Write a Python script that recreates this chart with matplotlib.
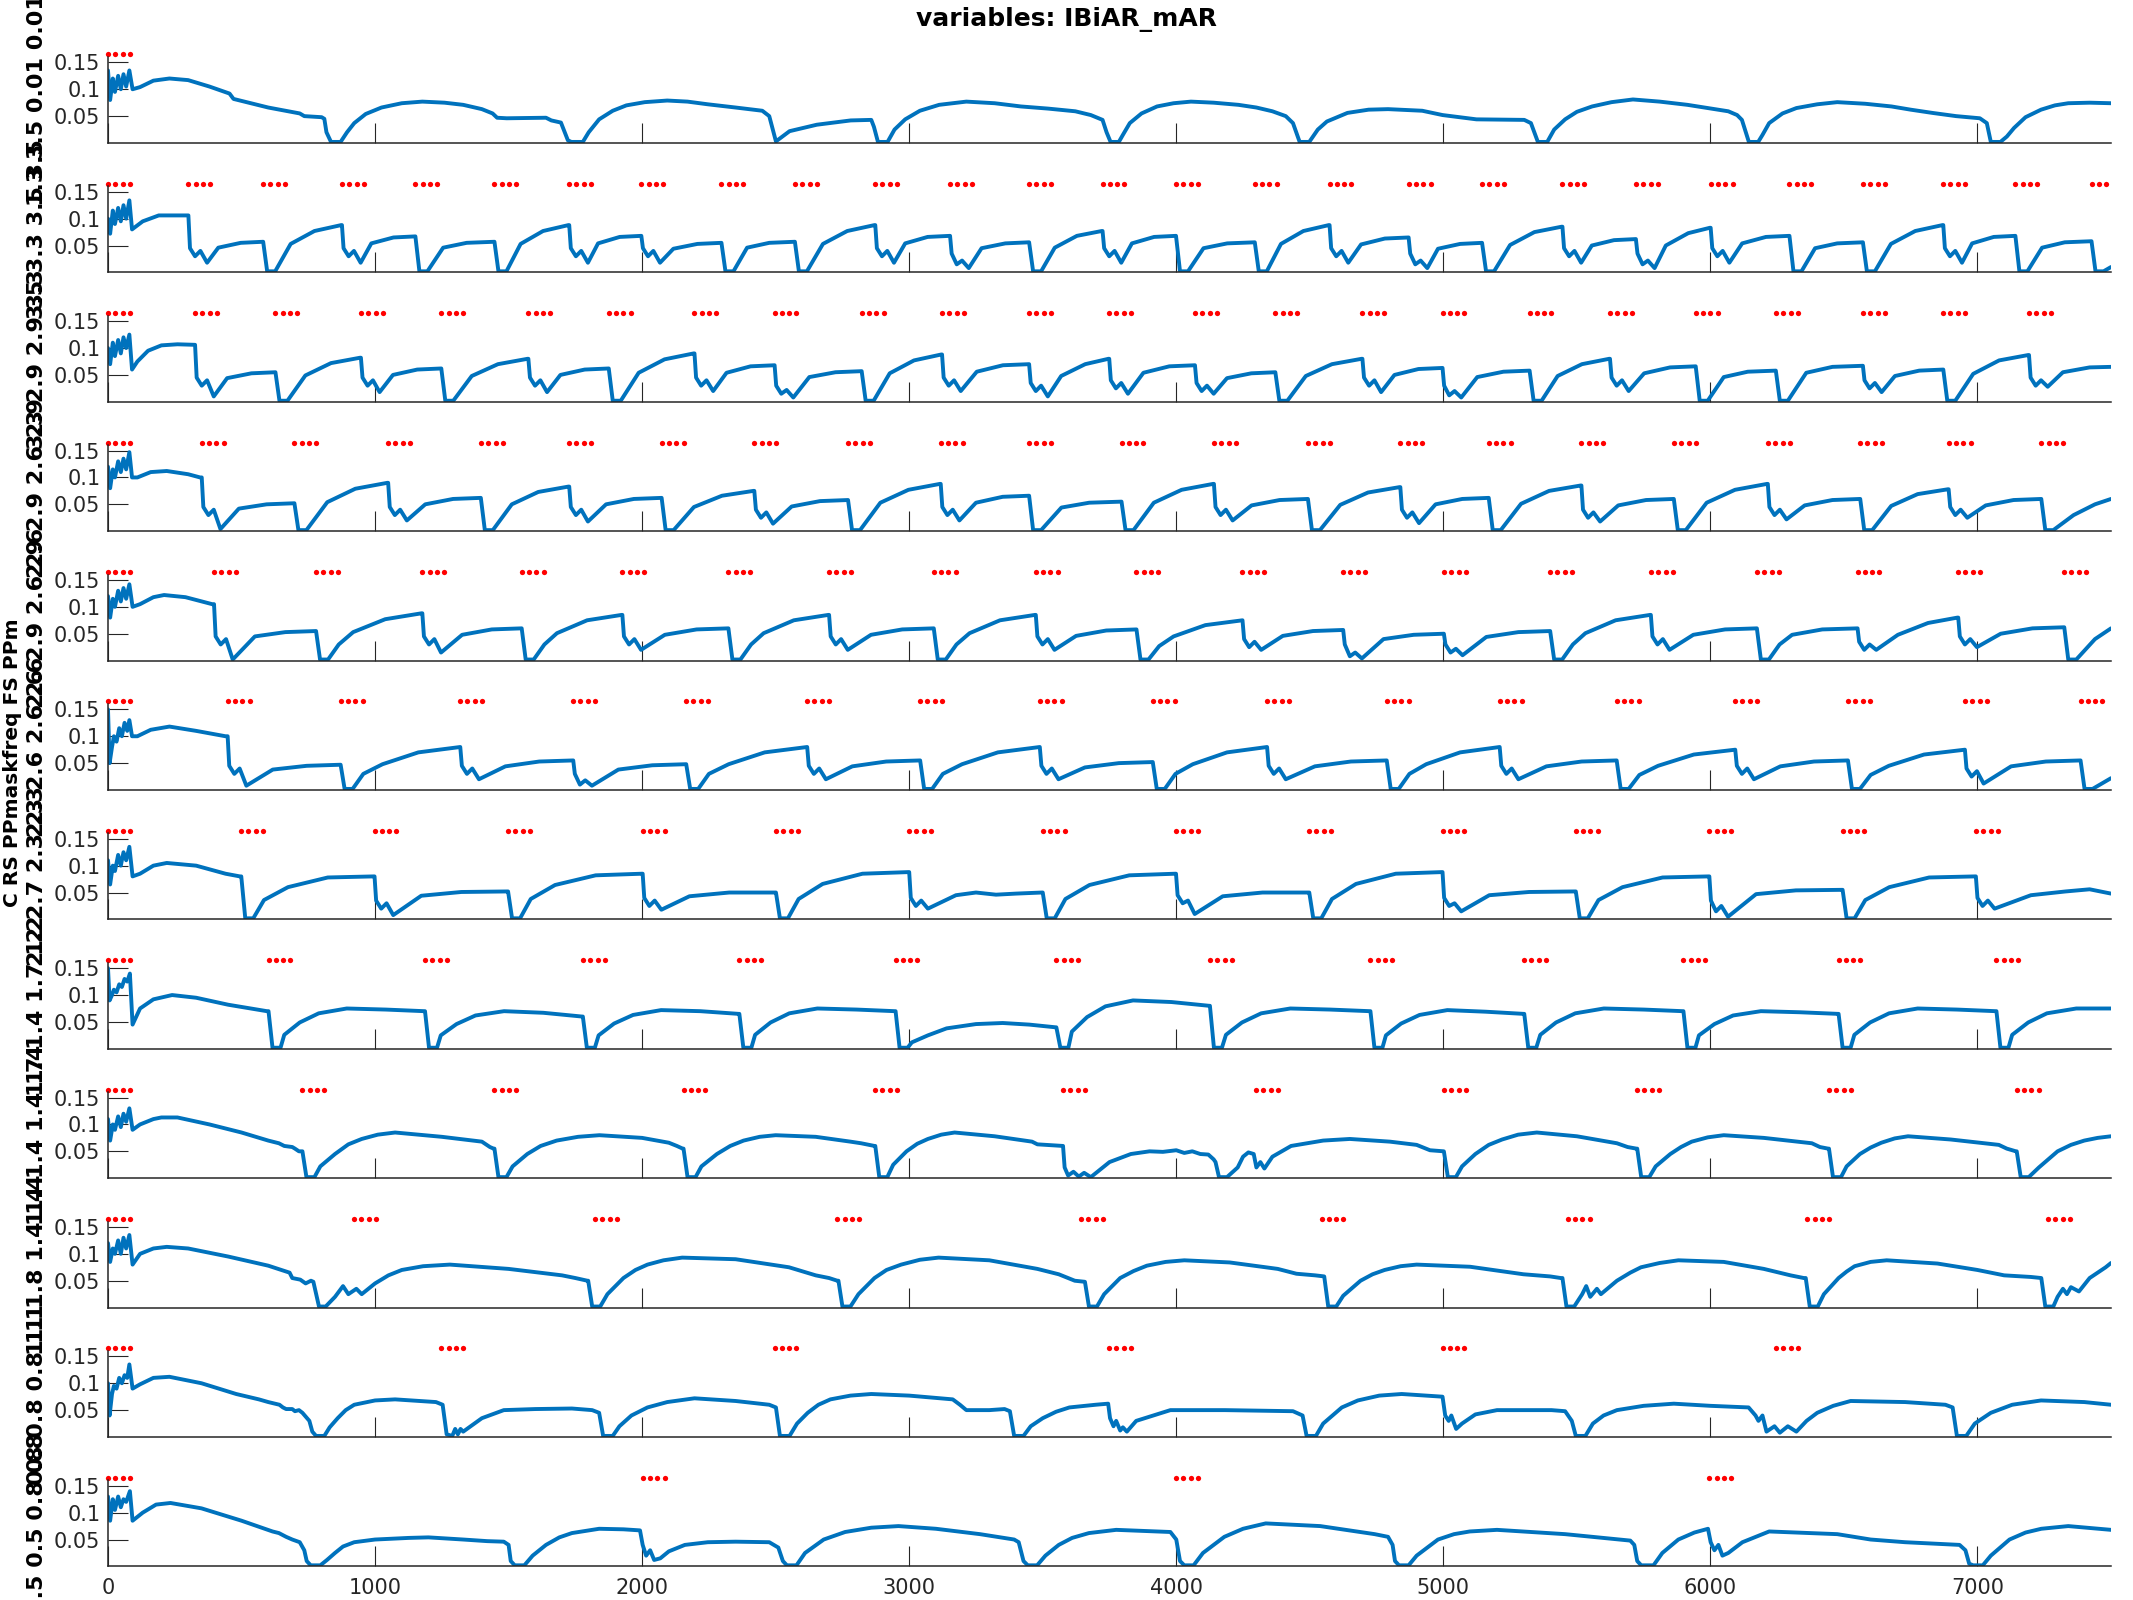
import matplotlib
matplotlib.use("Agg")
import matplotlib.pyplot as plt

title = "variables: IBiAR_mAR"
side_label = "C RS PPmaskfreq FS PPm"
row_labels = ["1.3 3.5 0.01 0.01", "3.5 3.3 3.5 3.5", "3.3 2.9 2.9 3.3", "2.9 2.9 2.6 2.9",
              "2.6 2.9 2.6 2.6", "2.3 2.6 2.6 2.6", "2.2 2.7 2.3 2.3", "1.7 1.4 1.7 1.2",
              "1.4 1.4 1.4 1.4", "1.1 1.8 1.4 1.4", "0.8 0.8 0.8 1.1", "0.5 0.5 0.8 0.8"]
xticks = [0, 1000, 2000, 3000, 4000, 5000, 6000, 7000]
yticks = [0.05, 0.1, 0.15]
ytick_labels = ["0.05", "0.1", "0.15"]
dot_offsets = [0, 27, 55, 82]
dot_level = 0.165

dots1 = [0]
dots2 = [0, 301, 581, 876, 1151, 1447, 1727, 1997, 2297, 2572, 2873, 3153, 3449, 3724, 3999, 4294,
         4574, 4870, 5145, 5446, 5721, 6001, 6296, 6571, 6872, 7142, 7427]
dots3 = [0, 326, 627, 947, 1248, 1574, 1875, 2196, 2496, 2822, 3123, 3449, 3749, 4070, 4371, 4697,
         4997, 5323, 5624, 5945, 6245, 6571, 6872, 7193]
dots4 = [0, 351, 698, 1049, 1396, 1727, 2073, 2420, 2771, 3118, 3449, 3795, 4141, 4493, 4839, 5170,
         5517, 5863, 6215, 6561, 6892, 7239]
dots5 = [0, 397, 779, 1177, 1549, 1926, 2323, 2700, 3092, 3474, 3851, 4248, 4625, 5002, 5400, 5777,
         6174, 6551, 6928, 7325]
dots6 = [0, 448, 871, 1319, 1742, 2165, 2618, 3041, 3489, 3912, 4340, 4788, 5211, 5649, 6093, 6515,
         6953, 7386]
dots7 = [0, 499, 998, 1498, 2002, 2501, 3000, 3500, 3999, 4498, 4997, 5496, 5996, 6495, 6994]
dots8 = [0, 601, 1187, 1778, 2364, 2949, 3551, 4126, 4727, 5303, 5899, 6480, 7071]
dots9 = [0, 728, 1447, 2155, 2873, 3576, 4299, 5002, 5726, 6444, 7147]
dots10 = [0, 922, 1824, 2731, 3643, 4544, 5466, 6363, 7264]
dots11 = [0, 1248, 2496, 3749, 4997, 6245]
dots12 = [0, 2002, 3999, 5996]

s1 = [(0,.135),(8,.08),(18,.12),(26,.095),(38,.125),(48,.1),(58,.128),(68,.105),(80,.135),(92,.1),(120,.104),(170,.116),(230,.12),(300,.117),(380,.105),(455,.092),(470,.082),(600,.066),(718,.055),(735,.05),(769,.049),(800,.048),(810,.045),(818,.02),(835,.002),(871,.002),
      (895,.02),(922,.037),(965,.054),(1024,.066),(1100,.074),(1177,.077),(1260,.075),(1330,.071),(1400,.063),(1440,.055),(1457,.047),(1493,.046),(1640,.047),(1660,.042),(1696,.038),(1722,.005),(1735,.002),(1778,.002),
      (1800,.02),(1839,.044),(1890,.06),(1941,.07),(2010,.076),(2094,.079),(2170,.077),(2246,.072),(2350,.066),(2450,.060),(2476,.05),(2501,.003),(2552,.022),(2654,.034),(2781,.042),(2858,.043),(2868,.03),(2883,.002),(2919,.002),
      (2945,.025),(2985,.044),(3040,.06),(3112,.071),(3214,.077),(3320,.074),(3418,.068),(3520,.064),(3622,.059),(3680,.052),(3724,.043),(3739,.02),(3754,.002),(3785,.002),
      (3800,.015),(3826,.037),(3870,.055),(3928,.068),(3990,.074),(4055,.077),(4140,.075),(4233,.071),(4300,.066),(4360,.059),(4410,.05),(4437,.037),(4462,.002),(4498,.002),
      (4530,.025),(4564,.04),(4641,.056),(4720,.062),(4793,.063),(4921,.06),(4997,.052),(5124,.044),(5303,.043),(5328,.037),(5354,.002),(5389,.002),
      (5415,.025),(5456,.044),(5500,.058),(5557,.068),(5630,.076),(5710,.081),(5810,.077),(5914,.071),(5990,.065),(6067,.059),(6100,.052),(6118,.043),(6144,.002),(6179,.002),
      (6195,.015),(6220,.037),(6270,.055),(6322,.065),(6400,.072),(6475,.076),(6580,.073),(6678,.068),(6750,.062),(6831,.056),(6920,.05),(7009,.046),(7035,.037),(7050,.002),(7086,.002),
      (7110,.012),(7137,.028),(7180,.048),(7238,.062),(7290,.07),(7340,.074),(7420,.075),(7500,.074)]

s2 = [(0,.1),(8,.072),(18,.115),(26,.09),(38,.12),(48,.095),(58,.125),(68,.1),(80,.134),(90,.08),(130,.095),(190,.106),(295,.106),
      (301,.106),(307,.045),(326,.03),(346,.04),(371,.018),(413,.046),(497,.055),(578,.057),
      (581,.057),(596,.002),(626,.002),(684,.053),(773,.077),(873,.088),
      (876,.088),(882,.045),(901,.03),(921,.04),(946,.018),(986,.054),(1069,.065),(1148,.067),
      (1151,.067),(1166,.002),(1196,.002),(1255,.046),(1343,.055),(1444,.057),
      (1447,.057),(1462,.002),(1492,.002),(1545,.053),(1629,.077),(1724,.088),
      (1727,.088),(1733,.045),(1752,.03),(1772,.04),(1797,.018),(1835,.054),(1916,.066),(1994,.068),
      (1997,.068),(2003,.045),(2022,.03),(2042,.04),(2067,.018),(2117,.044),(2207,.053),(2294,.055),
      (2297,.055),(2312,.002),(2342,.002),(2393,.046),(2476,.055),(2569,.057),
      (2572,.057),(2587,.002),(2617,.002),(2677,.053),(2768,.077),(2870,.088),
      (2873,.088),(2879,.045),(2898,.03),(2918,.04),(2943,.018),(2985,.054),(3069,.066),(3150,.068),
      (3153,.068),(3159,.035),(3178,.015),(3198,.022),(3223,.008),(3271,.045),(3360,.054),(3446,.056),
      (3449,.056),(3464,.002),(3494,.002),(3545,.046),(3628,.068),(3721,.077),
      (3724,.077),(3730,.045),(3749,.03),(3769,.04),(3794,.018),(3834,.054),(3917,.066),(3996,.068),
      (3999,.068),(4014,.002),(4044,.002),(4102,.045),(4191,.054),(4291,.056),
      (4294,.056),(4309,.002),(4339,.002),(4392,.053),(4476,.077),(4571,.088),
      (4574,.088),(4580,.045),(4599,.03),(4619,.04),(4644,.018),(4692,.052),(4781,.063),(4867,.065),
      (4870,.065),(4876,.035),(4895,.015),(4915,.022),(4940,.008),(4980,.044),(5063,.053),(5142,.055),
      (5145,.055),(5160,.002),(5190,.002),(5250,.051),(5341,.075),(5443,.085),
      (5446,.085),(5452,.045),(5471,.03),(5491,.04),(5516,.018),(5556,.05),(5639,.06),(5718,.062),
      (5721,.062),(5727,.035),(5746,.015),(5766,.022),(5791,.008),(5833,.05),(5917,.073),(5998,.083),
      (6001,.083),(6007,.045),(6026,.03),(6046,.04),(6071,.018),(6119,.054),(6208,.066),(6293,.068),
      (6296,.068),(6311,.002),(6341,.002),(6392,.045),(6475,.054),(6568,.056),
      (6571,.056),(6586,.002),(6616,.002),(6676,.053),(6767,.077),(6869,.088),
      (6872,.088),(6878,.045),(6897,.03),(6917,.04),(6942,.018),(6980,.054),(7061,.066),(7139,.068),
      (7142,.068),(7157,.002),(7187,.002),(7242,.046),(7327,.056),(7424,.058),
      (7427,.058),(7442,.002),(7472,.002),(7500,.01)]

s3 = [(0,.1),(8,.07),(18,.11),(26,.085),(38,.115),(48,.09),(58,.12),(68,.1),(80,.125),(90,.06),(110,.075),(150,.095),(200,.105),(260,.107),(320,.106),
      (326,.106),(332,.045),(351,.03),(371,.04),(396,.01),(446,.044),(537,.053),(624,.055),
      (627,.055),(642,.002),(672,.002),(739,.049),(835,.072),(944,.082),
      (947,.082),(953,.045),(972,.03),(992,.04),(1017,.018),(1067,.05),(1158,.06),(1245,.062),
      (1248,.062),(1263,.002),(1293,.002),(1362,.048),(1460,.07),(1571,.08),
      (1574,.08),(1580,.045),(1599,.03),(1619,.04),(1644,.018),(1694,.05),(1785,.06),(1872,.062),
      (1875,.062),(1890,.002),(1920,.002),(1987,.054),(2084,.079),(2193,.09),
      (2196,.09),(2202,.045),(2221,.03),(2241,.04),(2266,.02),(2316,.054),(2406,.066),(2493,.068),
      (2496,.068),(2502,.03),(2521,.015),(2541,.022),(2566,.008),(2626,.046),(2724,.055),(2819,.057),
      (2822,.057),(2837,.002),(2867,.002),(2927,.053),(3018,.077),(3120,.088),
      (3123,.088),(3129,.045),(3148,.03),(3168,.04),(3193,.02),(3253,.056),(3351,.068),(3446,.07),
      (3449,.07),(3455,.035),(3474,.02),(3494,.03),(3519,.01),(3569,.048),(3659,.07),(3746,.08),
      (3749,.08),(3755,.04),(3774,.025),(3794,.035),(3819,.015),(3877,.054),(3974,.066),(4067,.068),
      (4070,.068),(4076,.035),(4095,.02),(4115,.03),(4140,.015),(4190,.044),(4281,.053),(4368,.055),
      (4371,.055),(4386,.002),(4416,.002),(4485,.048),(4583,.07),(4694,.08),
      (4697,.08),(4703,.045),(4722,.03),(4742,.04),(4767,.018),(4817,.05),(4907,.061),(4994,.063),
      (4997,.063),(5003,.03),(5022,.012),(5042,.02),(5067,.008),(5127,.046),(5225,.056),(5320,.058),
      (5323,.058),(5338,.002),(5368,.002),(5428,.048),(5519,.07),(5621,.08),
      (5624,.08),(5630,.045),(5649,.03),(5669,.04),(5694,.02),(5752,.053),(5849,.064),(5942,.066),
      (5945,.066),(5960,.002),(5990,.002),(6050,.046),(6140,.056),(6242,.058),
      (6245,.058),(6260,.002),(6290,.002),(6359,.054),(6457,.065),(6568,.067),
      (6571,.067),(6577,.04),(6596,.025),(6616,.035),(6641,.018),(6691,.048),(6782,.058),(6869,.06),
      (6872,.06),(6887,.002),(6917,.002),(6984,.052),(7081,.077),(7190,.087),
      (7193,.087),(7199,.045),(7218,.03),(7238,.04),(7263,.028),(7320,.055),(7420,.064),(7500,.065)]

s4 = [(0,.12),(8,.08),(18,.115),(26,.1),(38,.13),(48,.11),(58,.135),(68,.115),(80,.147),(90,.1),(110,.1),(160,.11),(220,.112),(300,.106),(345,.1),
      (351,.1),(357,.045),(376,.03),(396,.04),(421,.004),(490,.042),(594,.05),(695,.052),
      (698,.052),(713,.002),(743,.002),(821,.054),(926,.079),(1046,.09),
      (1049,.09),(1055,.045),(1074,.03),(1094,.04),(1119,.02),(1188,.05),(1292,.06),(1393,.062),
      (1396,.062),(1411,.002),(1441,.002),(1512,.05),(1611,.073),(1724,.083),
      (1727,.083),(1733,.045),(1752,.03),(1772,.04),(1797,.018),(1865,.05),(1969,.06),(2070,.062),
      (2073,.062),(2088,.002),(2118,.002),(2194,.045),(2299,.066),(2417,.075),
      (2420,.075),(2426,.04),(2445,.025),(2465,.035),(2490,.014),(2560,.046),(2666,.056),(2768,.058),
      (2771,.058),(2786,.002),(2816,.002),(2892,.053),(2997,.077),(3115,.088),
      (3118,.088),(3124,.045),(3143,.03),(3163,.04),(3188,.02),(3250,.053),(3350,.064),(3446,.066),
      (3449,.066),(3464,.002),(3494,.002),(3570,.044),(3674,.053),(3792,.055),
      (3795,.055),(3810,.002),(3840,.002),(3916,.053),(4020,.077),(4138,.088),
      (4141,.088),(4147,.045),(4166,.03),(4186,.04),(4211,.02),(4282,.048),(4387,.058),(4490,.06),
      (4493,.06),(4508,.002),(4538,.002),(4614,.049),(4718,.072),(4836,.082),
      (4839,.082),(4845,.04),(4864,.025),(4884,.035),(4909,.015),(4971,.05),(5071,.06),(5167,.062),
      (5170,.062),(5185,.002),(5215,.002),(5291,.051),(5396,.075),(5514,.085),
      (5517,.085),(5523,.04),(5542,.025),(5562,.035),(5587,.018),(5655,.048),(5759,.058),(5860,.06),
      (5863,.06),(5878,.002),(5908,.002),(5986,.053),(6092,.077),(6212,.088),
      (6215,.088),(6221,.045),(6240,.03),(6260,.04),(6285,.022),(6353,.048),(6457,.058),(6558,.06),
      (6561,.06),(6576,.002),(6606,.002),(6677,.047),(6776,.069),(6889,.078),
      (6892,.078),(6898,.045),(6917,.03),(6937,.04),(6962,.025),(7031,.048),(7135,.058),(7236,.06),
      (7239,.06),(7254,.002),(7284,.002),(7360,.03),(7440,.05),(7500,.06)]

s5 = [(0,.12),(8,.08),(18,.115),(26,.1),(38,.13),(48,.11),(58,.135),(68,.115),(80,.142),(92,.1),(120,.105),(170,.118),(210,.122),(290,.118),(390,.105),
      (397,.105),(403,.045),(422,.03),(442,.04),(467,.002),(550,.045),(664,.053),(776,.055),
      (779,.055),(794,.002),(824,.002),(864,.03),(918,.053),(1038,.077),(1174,.088),
      (1177,.088),(1183,.045),(1202,.03),(1222,.04),(1247,.015),(1326,.048),(1437,.058),(1546,.06),
      (1549,.06),(1564,.002),(1594,.002),(1634,.03),(1681,.051),(1794,.075),(1923,.085),
      (1926,.085),(1932,.045),(1951,.03),(1971,.04),(1996,.02),(2085,.048),(2204,.058),(2320,.06),
      (2323,.06),(2338,.002),(2368,.002),(2408,.03),(2455,.051),(2568,.075),(2697,.085),
      (2700,.085),(2706,.045),(2725,.03),(2745,.04),(2770,.02),(2857,.048),(2974,.058),(3089,.06),
      (3092,.06),(3107,.002),(3137,.002),(3177,.03),(3226,.051),(3340,.075),(3471,.085),
      (3474,.085),(3480,.045),(3499,.03),(3519,.04),(3544,.02),(3625,.046),(3738,.056),(3848,.058),
      (3851,.058),(3866,.002),(3896,.002),(3936,.027),(3990,.045),(4109,.066),(4245,.075),
      (4248,.075),(4254,.04),(4273,.025),(4293,.035),(4318,.02),(4399,.046),(4512,.055),(4622,.057),
      (4625,.057),(4631,.03),(4650,.008),(4670,.015),(4695,.004),(4776,.04),(4889,.048),(4999,.05),
      (5002,.05),(5008,.03),(5027,.015),(5047,.022),(5072,.01),(5161,.044),(5281,.053),(5397,.055),
      (5400,.055),(5415,.002),(5445,.002),(5485,.03),(5532,.051),(5645,.075),(5774,.085),
      (5777,.085),(5783,.045),(5802,.03),(5822,.04),(5847,.02),(5936,.048),(6055,.058),(6171,.06),
      (6174,.06),(6189,.002),(6219,.002),(6259,.03),(6306,.048),(6419,.058),(6548,.06),
      (6551,.06),(6557,.035),(6576,.02),(6596,.03),(6621,.02),(6702,.048),(6815,.07),(6925,.08),
      (6928,.08),(6934,.045),(6953,.03),(6973,.04),(6998,.025),(7087,.05),(7206,.06),(7322,.062),
      (7325,.062),(7340,.002),(7370,.002),(7440,.04),(7500,.06)]

s6 = [(0,.15),(6,.05),(15,.08),(22,.1),(32,.09),(42,.115),(52,.1),(62,.125),(72,.11),(80,.13),(90,.1),(110,.1),(160,.112),(230,.118),(330,.11),(440,.1),
      (448,.1),(454,.045),(473,.03),(493,.04),(518,.008),(617,.038),(744,.045),(868,.047),
      (871,.047),(886,.002),(916,.002),(956,.03),(1028,.048),(1162,.07),(1316,.08),
      (1319,.08),(1325,.045),(1344,.03),(1364,.04),(1389,.02),(1488,.044),(1615,.053),(1739,.055),
      (1742,.055),(1748,.03),(1767,.01),(1787,.018),(1812,.008),(1911,.038),(2038,.046),(2162,.048),
      (2165,.048),(2180,.002),(2210,.002),(2250,.03),(2324,.048),(2459,.07),(2615,.08),
      (2618,.08),(2624,.045),(2643,.03),(2663,.04),(2688,.02),(2787,.044),(2914,.053),(3038,.055),
      (3041,.055),(3056,.002),(3086,.002),(3126,.03),(3198,.048),(3332,.07),(3486,.08),
      (3489,.08),(3495,.045),(3514,.03),(3534,.04),(3559,.02),(3658,.042),(3785,.05),(3909,.052),
      (3912,.052),(3927,.002),(3957,.002),(3997,.03),(4062,.048),(4190,.07),(4337,.08),
      (4340,.08),(4346,.045),(4365,.03),(4385,.04),(4410,.02),(4519,.044),(4654,.053),(4785,.055),
      (4788,.055),(4803,.002),(4833,.002),(4873,.03),(4936,.048),(5063,.07),(5208,.08),
      (5211,.08),(5217,.045),(5236,.03),(5256,.04),(5281,.02),(5386,.044),(5518,.053),(5646,.055),
      (5649,.055),(5664,.002),(5694,.002),(5734,.028),(5804,.045),(5938,.066),(6090,.075),
      (6093,.075),(6099,.045),(6118,.03),(6138,.04),(6163,.02),(6262,.044),(6388,.053),(6512,.055),
      (6515,.055),(6530,.002),(6560,.002),(6600,.028),(6668,.045),(6800,.066),(6950,.075),
      (6953,.075),(6959,.04),(6978,.025),(6998,.035),(7023,.012),(7126,.044),(7256,.053),(7383,.055),
      (7386,.055),(7401,.002),(7431,.002),(7500,.022)]

s7 = [(0,.11),(8,.065),(18,.1),(26,.09),(38,.12),(48,.1),(58,.125),(68,.11),(80,.135),(92,.08),(120,.085),(170,.1),(220,.105),(330,.1),(440,.085),(494,.08),
      (499,.08),(514,.002),(544,.002),(584,.036),(674,.06),(823,.078),(995,.08),
      (998,.08),(1004,.035),(1023,.02),(1043,.03),(1068,.008),(1173,.044),(1323,.051),(1495,.052),
      (1498,.052),(1513,.002),(1543,.002),(1583,.038),(1674,.064),(1826,.082),(1999,.085),
      (2002,.085),(2008,.04),(2027,.025),(2047,.035),(2072,.018),(2177,.043),(2326,.05),(2498,.05),
      (2501,.05),(2516,.002),(2546,.002),(2586,.038),(2676,.066),(2825,.085),(2997,.088),
      (3000,.088),(3006,.04),(3025,.025),(3045,.035),(3070,.02),(3175,.045),(3250,.05),(3325,.046),(3400,.048),(3497,.05),
      (3500,.05),(3515,.002),(3545,.002),(3585,.038),(3675,.064),(3824,.082),(3996,.085),
      (3999,.085),(4005,.045),(4024,.03),(4044,.035),(4069,.01),(4174,.043),(4323,.05),(4495,.05),
      (4498,.05),(4513,.002),(4543,.002),(4583,.038),(4673,.066),(4822,.085),(4994,.088),
      (4997,.088),(5003,.04),(5022,.025),(5042,.03),(5067,.015),(5172,.045),(5321,.051),(5493,.052),
      (5496,.052),(5511,.002),(5541,.002),(5581,.036),(5671,.06),(5821,.078),(5993,.08),
      (5996,.08),(6002,.035),(6021,.015),(6041,.025),(6066,.005),(6171,.047),(6320,.054),(6492,.055),
      (6495,.055),(6510,.002),(6540,.002),(6580,.036),(6670,.06),(6819,.078),(6991,.08),
      (6994,.08),(7000,.04),(7019,.025),(7039,.035),(7064,.02),(7200,.045),(7330,.052),(7420,.056),(7460,.052),(7500,.048)]

s8 = [(0,.15),(6,.09),(15,.1),(22,.11),(32,.105),(42,.12),(52,.115),(62,.13),(72,.125),(82,.14),(92,.045),(120,.075),(170,.092),(240,.1),(330,.095),(450,.082),(595,.07),
      (601,.07),(616,.002),(646,.002),(660,.026),(718,.049),(789,.066),(894,.075),(1040,.073),(1184,.07),
      (1187,.07),(1202,.002),(1232,.002),(1246,.025),(1305,.046),(1376,.062),(1483,.07),(1630,.067),(1775,.06),
      (1778,.06),(1793,.002),(1823,.002),(1837,.025),(1895,.047),(1966,.063),(2071,.072),(2218,.07),(2361,.065),
      (2364,.065),(2379,.002),(2409,.002),(2423,.026),(2481,.049),(2551,.066),(2656,.075),(2803,.073),(2946,.07),
      (2949,.07),(2964,.002),(2994,.002),(3010,.012),(3070,.025),(3140,.038),(3250,.046),(3350,.048),(3450,.045),(3548,.04),
      (3551,.04),(3566,.002),(3596,.002),(3609,.032),(3666,.059),(3735,.079),(3838,.09),(3982,.087),(4123,.08),
      (4126,.08),(4141,.002),(4171,.002),(4186,.026),(4246,.049),(4318,.066),(4427,.075),(4576,.073),(4724,.07),
      (4727,.07),(4742,.002),(4772,.002),(4785,.025),(4842,.047),(4911,.063),(5015,.072),(5159,.069),(5300,.065),
      (5303,.065),(5318,.002),(5348,.002),(5363,.026),(5422,.049),(5494,.066),(5601,.075),(5750,.073),(5896,.07),
      (5899,.07),(5914,.002),(5944,.002),(5957,.025),(6015,.046),(6085,.062),(6189,.07),(6334,.068),(6477,.065),
      (6480,.065),(6495,.002),(6525,.002),(6539,.026),(6598,.049),(6669,.066),(6776,.075),(6923,.073),(7068,.07),
      (7071,.07),(7086,.002),(7116,.002),(7130,.026),(7190,.049),(7260,.066),(7370,.075),(7500,.075)]

s9 = [(0,.11),(8,.07),(18,.1),(26,.09),(38,.115),(48,.095),(58,.12),(68,.105),(80,.13),(92,.09),(120,.1),(170,.11),(200,.113),(260,.113),(380,.1),(500,.085),(600,.07),(640,.065),(660,.06),(690,.058),(700,.055),(715,.05),(722,.05),
      (728,.05),(743,.002),(773,.002),(795,.022),(850,.045),(900,.063),(950,.073),(1010,.081),(1075,.085),(1250,.077),(1400,.068),(1430,.058),(1444,.055),
      (1447,.055),(1462,.002),(1492,.002),(1515,.022),(1570,.045),(1620,.06),(1680,.07),(1760,.077),(1840,.08),(2000,.075),(2100,.066),(2130,.06),(2152,.055),
      (2155,.055),(2170,.002),(2200,.002),(2222,.022),(2280,.045),(2330,.06),(2380,.07),(2440,.077),(2500,.08),(2650,.077),(2780,.068),(2820,.065),(2850,.062),(2870,.06),
      (2873,.06),(2888,.002),(2918,.002),(2940,.025),(2990,.05),(3030,.064),(3070,.073),(3120,.081),(3170,.085),(3320,.078),(3460,.068),(3480,.063),(3573,.06),
      (3576,.06),(3582,.02),(3595,.005),(3615,.012),(3635,.003),(3655,.01),(3680,.002),(3750,.03),(3830,.045),(3900,.05),(3950,.049),(4000,.052),(4030,.047),(4060,.05),(4090,.045),(4120,.044),(4140,.035),
      (4147,.03),(4160,.002),(4190,.002),(4230,.02),(4250,.04),(4270,.048),(4290,.045),(4300,.02),(4315,.03),(4330,.018),(4360,.04),(4430,.06),(4550,.07),(4650,.073),(4800,.068),(4900,.062),(4950,.052),(4999,.05),
      (5002,.05),(5017,.002),(5047,.002),(5070,.022),(5120,.045),(5170,.062),(5220,.072),(5280,.081),(5350,.085),(5500,.078),(5650,.065),(5690,.058),(5723,.055),
      (5726,.055),(5741,.002),(5771,.002),(5795,.022),(5850,.045),(5890,.058),(5930,.068),(5990,.076),(6050,.08),(6200,.075),(6380,.065),(6410,.058),(6441,.055),
      (6444,.055),(6459,.002),(6489,.002),(6510,.022),(6560,.045),(6600,.057),(6640,.066),(6690,.074),(6740,.078),(6900,.072),(7080,.062),(7110,.055),(7144,.05),
      (7147,.05),(7162,.002),(7192,.002),(7230,.02),(7300,.05),(7350,.062),(7400,.07),(7450,.075),(7500,.078)]

s10 = [(0,.12),(8,.085),(18,.11),(26,.1),(38,.125),(48,.1),(58,.13),(68,.11),(80,.135),(92,.08),(120,.1),(170,.11),(220,.113),(300,.11),(450,.095),(600,.078),(680,.065),(690,.055),(720,.052),(740,.045),(760,.05),
       (769,.048),(790,.002),(815,.002),(850,.02),(880,.04),(900,.025),(930,.035),(950,.025),(1000,.045),(1050,.06),(1100,.07),(1180,.077),(1280,.08),(1500,.072),(1700,.06),(1750,.055),(1795,.05),
       (1798,.05),(1813,.002),(1843,.002),(1870,.025),(1930,.055),(1975,.07),(2020,.08),(2080,.088),(2150,.093),(2350,.09),(2550,.075),(2650,.06),(2700,.055),(2731,.05),
       (2735,.05),(2750,.002),(2780,.002),(2810,.025),(2870,.055),(2915,.07),(2970,.08),(3040,.089),(3110,.093),(3300,.088),(3480,.072),(3560,.062),(3620,.05),(3655,.048),
       (3658,.048),(3673,.002),(3703,.002),(3730,.025),(3790,.055),(3840,.068),(3890,.078),(3960,.085),(4030,.088),(4200,.084),(4380,.072),(4450,.063),(4520,.06),(4552,.058),
       (4554,.058),(4569,.002),(4599,.002),(4625,.022),(4690,.05),(4735,.062),(4780,.07),(4840,.077),(4900,.08),(5100,.076),(5300,.062),(5400,.058),(5440,.055),
       (5446,.055),(5461,.002),(5490,.002),(5520,.025),(5535,.04),(5550,.02),(5575,.035),(5590,.025),(5650,.05),(5700,.065),(5740,.075),(5810,.083),(5880,.088),(6050,.085),(6200,.072),(6300,.06),(6350,.055),
       (6357,.055),(6372,.002),(6402,.002),(6425,.025),(6480,.055),(6510,.067),(6540,.077),(6600,.085),(6660,.088),(6850,.082),(7000,.07),(7100,.06),(7200,.057),(7236,.055),
       (7239,.055),(7254,.002),(7284,.002),(7300,.02),(7320,.035),(7335,.025),(7350,.038),(7380,.03),(7420,.055),(7480,.075),(7500,.083)]

s11 = [(0,.1),(6,.04),(15,.08),(22,.095),(32,.09),(42,.11),(52,.1),(62,.115),(72,.11),(80,.135),(92,.09),(120,.098),(170,.11),(230,.112),(350,.1),(480,.08),(565,.07),(600,.065),(642,.06),(655,.055),(667,.052),(690,.052),(700,.048),(715,.05),(728,.045),(754,.03),(765,.01),(779,.002),(810,.002),
       (830,.018),(860,.035),(890,.05),(922,.06),(1000,.068),(1075,.07),(1228,.065),(1253,.06),(1268,.005),(1289,.002),(1300,.015),(1310,.005),(1320,.015),(1330,.01),(1400,.035),(1482,.05),(1600,.052),(1737,.053),(1813,.05),(1839,.045),(1854,.002),(1890,.002),
       (1915,.02),(1960,.04),(2020,.055),(2094,.065),(2196,.072),(2350,.067),(2476,.06),(2501,.055),(2516,.002),(2552,.002),
       (2580,.025),(2620,.045),(2660,.06),(2705,.07),(2780,.077),(2858,.08),(3000,.077),(3163,.07),(3190,.06),(3214,.05),(3300,.05),(3357,.052),(3377,.048),(3393,.002),(3428,.002),
       (3455,.02),(3500,.035),(3550,.047),(3600,.055),(3698,.06),(3745,.062),(3752,.035),(3765,.02),(3775,.03),(3790,.012),(3800,.018),(3815,.01),(3850,.03),(3978,.05),(4182,.05),(4437,.048),(4473,.04),(4488,.002),(4523,.002),
       (4550,.025),(4620,.055),(4680,.068),(4760,.077),(4844,.08),(4997,.075),(5007,.04),(5020,.03),(5030,.04),(5048,.015),(5070,.025),(5120,.042),(5201,.05),(5405,.05),(5456,.048),(5481,.03),(5496,.002),(5532,.002),
       (5560,.025),(5600,.04),(5650,.05),(5750,.058),(5863,.062),(6000,.058),(6143,.055),(6169,.04),(6180,.03),(6195,.04),(6210,.01),(6240,.02),(6260,.008),(6290,.02),(6322,.01),(6360,.03),(6400,.045),(6460,.058),(6525,.067),(6729,.065),(6880,.06),(6907,.055),(6923,.002),(6958,.002),
       (6990,.025),(7050,.045),(7130,.06),(7238,.068),(7400,.065),(7500,.06)]

s12 = [(0,.13),(8,.085),(18,.125),(26,.105),(38,.13),(48,.11),(58,.125),(68,.12),(82,.14),(92,.085),(130,.1),(180,.115),(234,.118),(350,.108),(500,.085),(616,.065),(640,.062),(667,.055),(690,.05),(718,.045),(735,.03),(744,.01),(759,.002),(795,.002),
       (820,.012),(850,.025),(880,.037),(922,.045),(1000,.05),(1126,.053),(1200,.054),(1330,.05),(1420,.047),(1482,.046),(1500,.04),(1508,.01),(1523,.002),(1559,.002),
       (1590,.02),(1640,.04),(1690,.054),(1737,.062),(1839,.07),(1930,.069),(1992,.067),(2002,.04),(2015,.02),(2030,.03),(2045,.012),(2068,.015),(2100,.028),(2160,.04),(2246,.045),(2350,.046),(2476,.045),(2510,.035),(2527,.01),(2542,.002),(2578,.002),
       (2610,.025),(2680,.05),(2760,.064),(2858,.072),(2960,.075),(3100,.07),(3265,.06),(3330,.055),(3393,.05),(3410,.045),(3428,.01),(3444,.002),(3479,.002),
       (3510,.02),(3560,.04),(3610,.053),(3673,.062),(3775,.068),(3978,.064),(4000,.05),(4014,.01),(4030,.002),(4065,.002),
       (4100,.025),(4180,.055),(4250,.07),(4335,.08),(4539,.075),(4743,.06),(4793,.055),(4810,.04),(4819,.01),(4834,.002),(4870,.002),
       (4900,.02),(4980,.05),(5040,.06),(5099,.065),(5201,.068),(5456,.06),(5659,.05),(5700,.048),(5715,.04),(5726,.01),(5741,.002),(5787,.002),
       (5820,.025),(5880,.05),(5940,.063),(5991,.07),(6001,.045),(6015,.03),(6030,.04),(6045,.02),(6067,.025),(6120,.045),(6220,.065),(6475,.06),(6600,.05),(6729,.045),(6850,.042),(6933,.04),(6955,.03),(6969,.005),(6984,.002),(7020,.002),
       (7050,.02),(7120,.05),(7180,.063),(7239,.07),(7340,.075),(7500,.068)]

series = [s1, s2, s3, s4, s5, s6, s7, s8, s9, s10, s11, s12]
dots = [dots1, dots2, dots3, dots4, dots5, dots6, dots7, dots8, dots9, dots10, dots11, dots12]

W, H = 2133, 1600
fig = plt.figure(figsize=(W / 100, H / 100), dpi=100)
fig.patch.set_facecolor("white")

left_px, right_px = 108, 2111
first_bottom_px, pitch_px, height_px = 143, 129.4, 86
dark = "#262626"

for i, (s, d) in enumerate(zip(series, dots)):
    bottom_px = first_bottom_px + i * pitch_px
    ax = fig.add_axes([left_px / W, 1 - bottom_px / H, (right_px - left_px) / W, height_px / H])
    xs = [p[0] for p in s]
    ys = [p[1] for p in s]
    ax.plot(xs, ys, color="#0072BD", lw=2.8, solid_joinstyle="round", solid_capstyle="round")
    dx = [g + o for g in d for o in dot_offsets if g + o <= 7500]
    ax.plot(dx, [dot_level] * len(dx), linestyle="none", marker="o", ms=3.8,
            color="#FF0000", mec="none", clip_on=False)
    ax.set_xlim(0, 7500)
    ax.set_ylim(0, 0.16)
    ax.set_xticks(xticks)
    ax.set_yticks(yticks)
    ax.set_yticklabels(ytick_labels)
    for side in ("top", "right"):
        ax.spines[side].set_visible(False)
    for side in ("left", "bottom"):
        ax.spines[side].set_color(dark)
        ax.spines[side].set_linewidth(1.1)
    ax.tick_params(direction="in", length=14.4, width=0.8, color=dark,
                   labelcolor=dark, labelsize=15)
    ax.tick_params(axis="y", pad=5.5)
    ax.tick_params(axis="x", pad=8)
    if i < len(series) - 1:
        ax.set_xticklabels([])
    else:
        ax.set_xticklabels([str(v) for v in xticks])
    cy = 1 - (bottom_px - height_px / 2) / H
    fig.text(37 / W, cy, row_labels[i], rotation=90, ha="center", va="center",
             fontsize=16, fontweight="bold", color="black")

fig.text(13 / W, 1 - 763 / H, side_label, rotation=90, ha="center", va="center",
         fontsize=14.5, fontweight="bold", color="black")
fig.text(0.5, 1 - 20 / H, title, ha="center", va="center", fontsize=18,
         fontweight="bold", color="black")

fig.savefig("out.png", dpi=100, facecolor="white")
